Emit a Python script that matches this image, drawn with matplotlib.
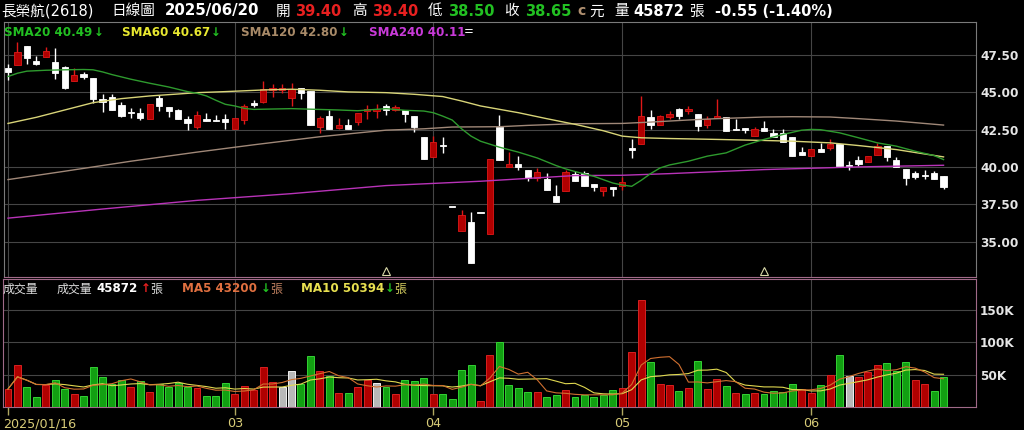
import numpy as np
import pandas as pd
import matplotlib
matplotlib.use('Agg')
from matplotlib import pyplot as plt
from matplotlib import transforms

plt.rcParams['font.family'] = ['DejaVu Sans', 'Noto Sans CJK TC']

# daily candles 2025/01/16 .. 2025/06/20
opens = [46.65, 46.83, 48.06, 47.06, 47.37, 46.99, 46.72, 45.76, 46.23, 45.94,
         44.57, 44.66, 44.17, 43.70, 43.63, 43.23, 44.64, 44.03, 43.83, 43.18,
         42.69, 43.20, 43.16, 43.20, 42.51, 43.11, 44.30, 44.37, 45.15, 45.15,
         44.64, 45.29, 45.09, 42.69, 43.41, 42.60, 42.78, 43.00, 43.74, 43.74,
         44.08, 43.81, 43.81, 43.41, 42.02, 40.67, 41.48, 37.31, 35.68, 36.30,
         36.89, 35.50, 42.67, 40.02, 40.22, 39.82, 39.26, 39.22, 38.07, 38.41,
         39.55, 39.60, 38.88, 38.36, 38.63, 38.70, 41.28, 41.55, 43.34, 42.78,
         43.36, 43.85, 43.74, 43.52, 42.78, 43.25, 43.36, 42.51, 42.58, 42.06,
         42.62, 42.24, 42.24, 41.99, 41.03, 40.76, 41.21, 41.28, 41.55, 40.13,
         40.45, 40.31, 40.78, 41.39, 40.45, 39.87, 39.60, 39.46, 39.60, 39.40]
highs = [46.88, 48.33, 48.06, 47.44, 48.00, 47.93, 46.75, 46.59, 46.36, 45.94,
         44.91, 44.91, 44.37, 43.94, 43.97, 44.23, 44.79, 44.03, 43.85, 43.41,
         43.74, 43.58, 43.50, 43.52, 43.27, 44.19, 44.48, 45.76, 45.58, 45.53,
         45.65, 45.29, 45.10, 43.41, 43.81, 43.25, 43.18, 43.63, 44.12, 44.19,
         44.23, 44.12, 43.81, 43.41, 42.02, 42.06, 42.02, 37.31, 37.09, 36.95,
         36.89, 40.54, 43.49, 40.99, 40.72, 39.82, 39.93, 39.60, 38.77, 39.82,
         39.71, 39.71, 38.88, 38.63, 38.63, 39.33, 41.84, 44.75, 43.79, 43.45,
         43.74, 43.97, 44.08, 43.52, 43.41, 44.53, 43.36, 43.18, 42.58, 42.67,
         43.07, 42.51, 42.55, 42.00, 41.32, 41.21, 41.61, 41.84, 41.55, 40.38,
         40.72, 40.76, 41.61, 41.39, 40.67, 39.87, 39.75, 39.82, 39.75, 39.40]
lows = [45.82, 46.83, 46.92, 46.81, 47.37, 45.87, 45.20, 45.76, 45.91, 44.30,
        43.67, 43.81, 43.32, 43.27, 43.11, 43.20, 43.74, 43.36, 43.18, 42.46,
        42.55, 43.10, 43.07, 42.51, 42.51, 42.85, 43.99, 44.30, 44.70, 44.93,
        44.08, 44.53, 42.80, 42.24, 42.51, 42.51, 42.55, 42.78, 43.18, 43.30,
        43.45, 43.74, 43.00, 42.33, 40.56, 40.67, 40.94, 37.31, 35.68, 33.55,
        36.89, 35.50, 40.43, 40.02, 39.82, 39.04, 39.04, 38.43, 37.65, 38.41,
        39.04, 38.75, 38.36, 38.07, 38.03, 38.48, 40.60, 41.55, 42.51, 42.78,
        43.18, 43.18, 43.52, 42.40, 42.62, 43.25, 42.40, 42.46, 42.28, 42.06,
        42.40, 41.99, 41.66, 40.72, 40.83, 40.76, 41.01, 41.16, 40.04, 39.82,
        40.04, 40.31, 40.78, 40.38, 40.00, 38.81, 39.19, 39.19, 39.19, 38.50]
closes = [46.38, 47.71, 47.26, 46.92, 47.73, 46.30, 45.26, 46.18, 46.05, 44.53,
          44.35, 43.81, 43.41, 43.63, 43.27, 44.23, 44.08, 43.74, 43.18, 42.91,
          43.45, 43.10, 43.07, 43.02, 43.27, 44.08, 44.17, 45.20, 45.26, 45.26,
          45.24, 44.93, 42.80, 43.29, 42.51, 42.78, 42.55, 43.63, 43.85, 43.85,
          43.81, 44.01, 43.54, 42.69, 40.56, 41.66, 41.43, 37.31, 36.80, 33.55,
          36.89, 40.54, 40.43, 40.22, 39.98, 39.26, 39.64, 38.43, 37.65, 39.66,
          39.04, 38.75, 38.63, 38.63, 38.54, 38.99, 41.16, 43.41, 42.78, 43.41,
          43.52, 43.41, 43.85, 42.73, 43.18, 43.38, 42.40, 42.46, 42.44, 42.51,
          42.40, 41.99, 41.66, 40.76, 40.83, 41.21, 41.01, 41.55, 40.04, 40.07,
          40.20, 40.76, 41.43, 40.65, 40.00, 39.26, 39.31, 39.37, 39.19, 38.65]

volumes = [27800, 65500, 30900, 15200, 34000, 41400, 27800, 19400, 16800, 62400,
           46600, 35000, 42400, 30400, 40300, 23600, 35100, 30900, 36700, 30900,
           28800, 16800, 16800, 37700, 19900, 32500, 26200, 61300, 38300, 30900,
           55000, 36200, 79600, 56100, 47700, 22000, 22000, 30400, 42400, 37700,
           30400, 20400, 41400, 40300, 44500, 19900, 19900, 12000, 57000, 65500,
           8900, 81200, 101000, 34000, 29300, 23000, 23000, 15200, 18900, 25700,
           15200, 18900, 15700, 18900, 25700, 29300, 84900, 165600, 69700, 35100,
           34000, 24600, 29300, 70700, 27800, 43500, 33000, 21000, 19900, 21500,
           19400, 24600, 23600, 35100, 27800, 22000, 34600, 49800, 80700, 48200,
           46100, 53400, 65500, 68100, 55000, 69700, 42400, 35600, 24600, 45872]
# r = up, g = down, w = unchanged
vol_dir = ("rrggrggrgg" "gggrgrgggg" "rgggrrrrrw" "wggrgrgrrw" "grgggrgggg"
           "rrggggrggr" "gggggrrrgr" "rgrgrrgrgr" "ggggrrgrgw" "rrrgggrrgg")

sma20_idx = [0, 1, 2, 4, 6, 8, 9, 10, 11, 13, 15, 17, 19, 20, 21, 22, 23, 24, 25, 26,
             30, 35, 37, 40, 42, 44, 45, 46, 47, 48, 49, 50, 52, 54, 56, 58, 59, 60, 62, 64,
             65, 66, 67, 68, 69, 70, 72, 74, 76, 78, 80, 82, 84, 85, 86, 88, 90, 92, 94, 96,
             98, 99]
sma20_val = [46.05, 46.27, 46.41, 46.47, 46.50, 46.52, 46.50, 46.36, 46.18, 45.87,
             45.60, 45.35, 45.04, 44.93, 44.75, 44.46, 44.19, 44.08, 43.92, 43.85,
             43.90, 43.81, 43.76, 43.90, 43.79, 43.74, 43.63, 43.40, 43.14, 42.55,
             42.06, 41.72, 41.32, 40.99, 40.60, 40.09, 39.87, 39.69, 39.37, 38.92,
             38.79, 38.70, 39.10, 39.55, 39.93, 40.13, 40.38, 40.72, 40.94, 41.46,
             41.84, 42.17, 42.46, 42.51, 42.49, 42.28, 41.95, 41.61, 41.39, 41.05,
             40.76, 40.49]
sma60_idx = [0, 3, 6, 9, 12, 15, 18, 20, 23, 27, 30, 33, 36, 40, 43, 46, 48, 50, 54, 57,
             60, 63, 65, 67, 70, 75, 80, 83, 87, 90, 94, 99]
sma60_val = [42.91, 43.32, 43.81, 44.30, 44.57, 44.75, 44.88, 44.97, 45.04, 45.15,
             45.20, 45.13, 45.02, 44.97, 44.86, 44.71, 44.41, 44.08, 43.63, 43.23,
             42.85, 42.42, 42.06, 41.95, 41.90, 41.84, 41.77, 41.72, 41.61, 41.43,
             41.16, 40.67]
sma120_idx = [0, 6, 13, 20, 26, 33, 40, 44, 47, 52, 55, 60, 65, 68, 72, 75, 80, 83, 87, 90, 94, 99]
sma120_val = [39.15, 39.71, 40.38, 40.99, 41.48, 42.02, 42.46, 42.55, 42.67, 42.69, 42.78,
              42.89, 42.91, 43.00, 43.14, 43.23, 43.34, 43.36, 43.34, 43.23, 43.07, 42.80]
sma240_idx = [0, 10, 20, 30, 40, 50, 60, 65, 70, 80, 90, 99]
sma240_val = [36.57, 37.18, 37.76, 38.21, 38.75, 39.04, 39.42, 39.44, 39.55, 39.82, 40.00, 40.11]

month_pos = [0, 24, 45, 65, 85]
month_labels = ['2025/01/16', '03', '04', '05', '06']
marker_pos = [40, 80]
price_ticks = [35.0, 37.5, 40.0, 42.5, 45.0, 47.5]
vol_ticks = [50000, 100000, 150000]
vol_tick_labels = ['50K', '100K', '150K']

W, H = 1024, 430
BAR_PX = 9.45   # pixels per trading day
X0_PX = 8       # pixel of the first bar

fig = plt.figure(figsize=(W / 100, H / 100), dpi=100, facecolor='black')


def fx(px):
    return px / W


def fy(py):
    return 1 - py / H


ax = fig.add_axes([fx(4), fy(277), fx(976) - fx(4), fy(22) - fy(277)])
axv = fig.add_axes([fx(3), fy(407), fx(976) - fx(3), fy(279) - fy(407)])
ax.set_xlim((4 - X0_PX) / BAR_PX, (976 - X0_PX) / BAR_PX)
axv.set_xlim((3 - X0_PX) / BAR_PX, (976 - X0_PX) / BAR_PX)

for a in (ax, axv):
    a.set_facecolor('black')
    a.set_xticks(month_pos)
    a.grid(True, color='#454545', lw=0.8)
    a.set_axisbelow(True)
    a.yaxis.tick_right()
    a.tick_params(axis='y', length=0, pad=3, labelcolor='#e6e6e6', labelsize=8.7)

for s in ax.spines.values():
    s.set_color('#7a7a7a')
ax.spines['bottom'].set_color('#a06a88')
for s in axv.spines.values():
    s.set_color('#a06a88')

# price panel
o = np.array(opens)
h = np.array(highs)
l = np.array(lows)
c = np.array(closes)
x = np.arange(len(c))
up = c > o
body_col = np.where(up, '#b00000', '#ffffff')
edge_col = np.where(up, '#e01818', '#ffffff')
ax.vlines(x, l, h, colors=edge_col, lw=1, zorder=3)
ax.bar(x, np.maximum(np.abs(c - o), 0.06), 0.66, bottom=np.minimum(o, c),
       color=body_col, edgecolor=edge_col, lw=0.6, zorder=4)

ax.plot(sma240_idx, sma240_val, color='#b833b8', lw=1, zorder=5)
ax.plot(sma120_idx, sma120_val, color='#a08878', lw=1, zorder=5)
ax.plot(sma60_idx, sma60_val, color='#d8d478', lw=1, zorder=5)
ax.plot(sma20_idx, sma20_val, color='#2e9a2e', lw=1, zorder=5)
ax.plot(marker_pos, [0.025] * len(marker_pos), ls='none', marker='^', ms=5.5,
        mfc='none', mec='#d8d8a8', mew=0.8, transform=ax.get_xaxis_transform(),
        clip_on=False, zorder=6)

ax.set_ylim(32.63, 49.70)
ax.set_yticks(price_ticks)
ax.set_yticklabels(['%.2f' % v for v in price_ticks])
ax.tick_params(axis='x', length=0, labelbottom=False)
for lbl in ax.get_yticklabels():
    lbl.set_fontweight('bold')

# volume panel
fill_map = {'r': '#b00000', 'g': '#12a012', 'w': '#b8b8b8'}
edge_map = {'r': '#d82020', 'g': '#34d034', 'w': '#f0f0f0'}
axv.bar(x, volumes, 0.74, color=[fill_map[d] for d in vol_dir],
        edgecolor=[edge_map[d] for d in vol_dir], lw=0.7, zorder=3)
vs = pd.Series(volumes)
axv.plot(x, vs.rolling(10, min_periods=1).mean(), color='#e0d850', lw=0.8, zorder=4)
axv.plot(x, vs.rolling(5, min_periods=1).mean(), color='#d07030', lw=0.8, zorder=4)
axv.set_ylim(0, 198000)
axv.set_yticks(vol_ticks)
axv.set_yticklabels(vol_tick_labels)
for lbl in axv.get_yticklabels():
    lbl.set_fontweight('bold')
axv.set_xticklabels(month_labels)
axv.tick_params(axis='x', length=6, width=1, color='#b0a860', pad=1.5,
                labelcolor='#d8cc78', labelsize=9.2)
first = axv.get_xticklabels()[0]
first.set_horizontalalignment('left')
first.set_transform(first.get_transform() +
                    transforms.ScaledTranslation(-0.05, 0, fig.dpi_scale_trans))


def put(xp, yp, s, color='white', size=10.5, weight='normal'):
    fig.text(fx(xp), fy(yp), s, color=color, fontsize=size, fontweight=weight,
             ha='left', va='center')


# header row
WHITE, RED, GREEN = '#ffffff', '#e82020', '#22c022'
put(1, 11, '長榮航(2618)', WHITE, 10.5)
put(111, 11, '日線圖', WHITE, 10.5)
put(165, 11, '2025/06/20', WHITE, 10.8, 'bold')
put(276, 11, '開', WHITE, 10.5)
put(295, 11, '39.40', RED, 10.5, 'bold')
put(352, 11, '高', WHITE, 10.5)
put(372, 11, '39.40', RED, 10.5, 'bold')
put(428, 11, '低', WHITE, 10.5)
put(448, 11, '38.50', GREEN, 10.5, 'bold')
put(504, 11, '收', WHITE, 10.5)
put(525, 11, '38.65', GREEN, 10.5, 'bold')
put(577, 11, 'c', '#b09070', 10, 'bold')
put(589, 11, '元', WHITE, 10.5)
put(614, 11, '量', WHITE, 10.5)
put(633, 11, '45872', WHITE, 10.5, 'bold')
put(689, 11, '張', WHITE, 10.5)
put(715, 11, '-0.55 (-1.40%)', WHITE, 10.5, 'bold')

# moving average legend
put(4, 32, 'SMA20 40.49', '#22c022', 8.6, 'bold')
put(94, 32, '↓', '#22c022', 8.6, 'bold')
put(122, 32, 'SMA60 40.67', '#e8e830', 8.6, 'bold')
put(211, 32, '↓', '#22c022', 8.6, 'bold')
put(241, 32, 'SMA120 42.80', '#a88a68', 8.6, 'bold')
put(339, 32, '↓', '#22c022', 8.6, 'bold')
put(369, 32, 'SMA240 40.11', '#c83ad8', 8.6, 'bold')
put(464, 32, '=', WHITE, 8.6)

# volume legend
put(3, 289, '成交量', '#dddddd', 8.6)
put(57, 289, '成交量', '#dddddd', 8.6)
put(96, 289, '45872', WHITE, 8.6, 'bold')
put(141, 289, '↑', RED, 8.6, 'bold')
put(150, 289, '張', '#dddddd', 8.6)
put(182, 289, 'MA5 43200', '#e07040', 8.6, 'bold')
put(261, 289, '↓', '#22c022', 8.6, 'bold')
put(270, 289, '張', '#c08060', 8.6)
put(301, 289, 'MA10 50394', '#e8e050', 8.6, 'bold')
put(385, 289, '↓', '#22c022', 8.6, 'bold')
put(394, 289, '張', '#d8d060', 8.6)

plt.savefig('out.png', dpi=100, facecolor='black')
